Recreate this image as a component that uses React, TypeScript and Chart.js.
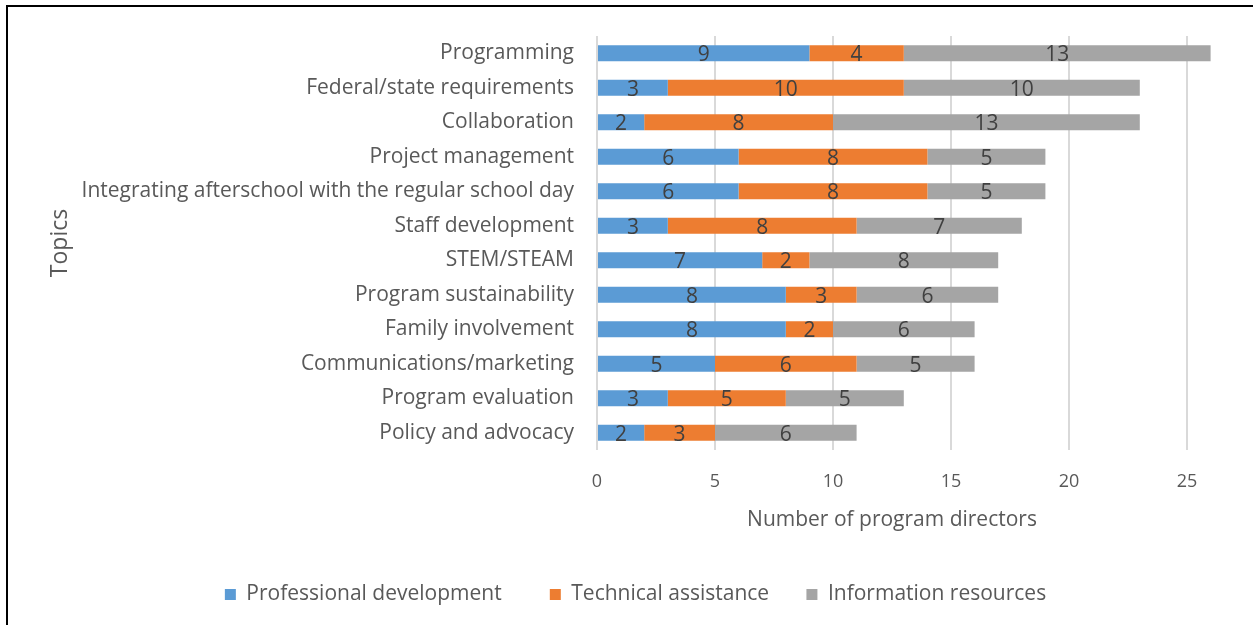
import React, { useEffect, useRef } from "react";
import { Chart, registerables } from "chart.js";

Chart.register(...registerables);

const categories = [
  "Programming",
  "Federal/state requirements",
  "Collaboration",
  "Project management",
  "Integrating afterschool with the regular school day",
  "Staff development",
  "STEM/STEAM",
  "Program sustainability",
  "Family involvement",
  "Communications/marketing",
  "Program evaluation",
  "Policy and advocacy",
];
const professionalDevelopment = [9, 3, 2, 6, 6, 3, 7, 8, 8, 5, 3, 2];
const technicalAssistance = [4, 10, 8, 8, 8, 8, 2, 3, 2, 6, 5, 3];
const informationResources = [13, 10, 13, 5, 5, 7, 8, 6, 6, 5, 5, 6];
const seriesNames = ["Professional development", "Technical assistance", "Information resources"];
const seriesColors = ["#5B9BD5", "#ED7D31", "#A5A5A5"];
const legendTrailing = ["       ", "     ", ""];
const xTickValues = [0, 5, 10, 15, 20, 25];

const FONT = "'Open Sans', sans-serif";

const dataLabelPlugin = {
  id: "dataLabels",
  afterLayout(chart: any) {
    if (chart.legend) {
      chart.legend.left += 42;
      chart.legend.right += 42;
    }
  },
  afterDatasetsDraw(chart: any) {
    const ctx = chart.ctx;
    ctx.save();
    ctx.font = `21px ${FONT}`;
    ctx.fillStyle = "#404040";
    ctx.textAlign = "center";
    ctx.textBaseline = "middle";
    chart.data.datasets.forEach((ds: any, di: number) => {
      const meta = chart.getDatasetMeta(di);
      meta.data.forEach((el: any, i: number) => {
        const v = ds.data[i];
        if (!v) return;
        const { x, base, y } = el.getProps(["x", "base", "y"], true);
        ctx.fillText(String(v), (x + base) / 2, y + 2);
      });
    });
    ctx.restore();
  },
};

export default function App() {
  const ref = useRef<HTMLCanvasElement>(null);
  useEffect(() => {
    if (!ref.current) return;
    const chart = new Chart(ref.current, {
      type: "bar",
      data: {
        labels: categories,
        datasets: [
          { label: seriesNames[0], data: professionalDevelopment, backgroundColor: seriesColors[0] },
          { label: seriesNames[1], data: technicalAssistance, backgroundColor: seriesColors[1] },
          { label: seriesNames[2], data: informationResources, backgroundColor: seriesColors[2] },
        ],
      },
      options: {
        indexAxis: "y",
        responsive: false,
        animation: false,
        maintainAspectRatio: false,
        datasets: { bar: { categoryPercentage: 0.92, barPercentage: 0.5, borderWidth: 0, clip: false } as any },
        layout: { padding: { top: 36, right: 66, bottom: 10, left: 0 } },
        plugins: {
          tooltip: { enabled: false },
          legend: {
            position: "bottom",
            labels: {
              font: { family: FONT, size: 21 },
              color: "#595959",
              boxWidth: 11,
              boxHeight: 11,
              padding: 10,
              generateLabels: (chart: any) =>
                chart.data.datasets.map((ds: any, i: number) => ({
                  text: ds.label + legendTrailing[i],
                  fillStyle: ds.backgroundColor,
                  strokeStyle: ds.backgroundColor,
                  lineWidth: 0,
                  hidden: false,
                  datasetIndex: i,
                  fontColor: "#595959",
                })),
            },
          },
        },
        scales: {
          x: {
            stacked: true,
            min: 0,
            max: 25,
            border: { display: false },
            grid: { color: "#D9D9D9", lineWidth: 2, drawTicks: false },
            afterBuildTicks: (axis: any) => {
              axis.ticks = xTickValues.map((v) => ({ value: v }));
            },
            afterFit: (s: any) => {
              s.height = 124;
            },
            ticks: { font: { family: FONT, size: 18 }, color: "#595959", padding: 21 },
            title: {
              display: true,
              text: "Number of program directors",
              font: { family: FONT, size: 21 },
              color: "#595959",
              padding: { top: 0, bottom: 41 },
            },
          },
          y: {
            stacked: true,
            border: { display: false },
            grid: { display: false, drawTicks: false },
            afterFit: (s: any) => {
              s.width = 597;
            },
            ticks: { font: { family: FONT, size: 21 }, color: "#595959", padding: 23 },
            title: {
              display: true,
              text: "Topics",
              font: { family: FONT, size: 23 },
              color: "#595959",
              padding: { top: 47, bottom: 0 },
            },
          },
        },
      },
      plugins: [dataLabelPlugin],
    });
    return () => chart.destroy();
  }, []);
  return (
    <div style={{ position: "absolute", left: 0, top: 0, width: 1253, height: 625, overflow: "hidden", background: "#fff" }}>
      <div style={{ position: "absolute", left: 6, top: 5, width: 1400, height: 800, border: "2px solid #000" }} />
      <canvas ref={ref} width={1253} height={625} style={{ position: "absolute", left: 0, top: 0 }} />
    </div>
  );
}
